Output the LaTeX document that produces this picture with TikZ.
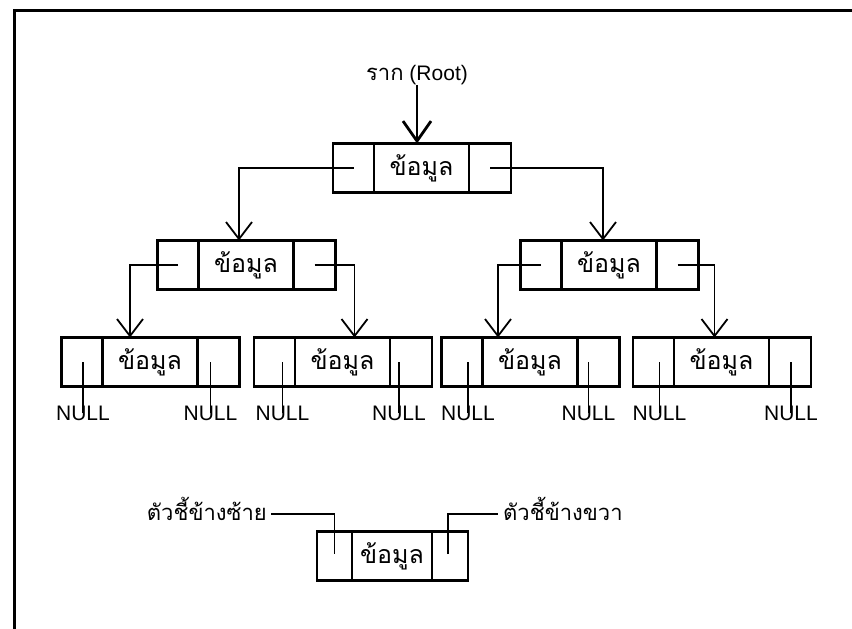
\documentclass[tikz,border=0pt]{standalone}
\usepackage{fontspec}
\setmainfont{Liberation Sans}
\newfontfamily\thaifont[Script=Thai]{Loma}
\usetikzlibrary{arrows.meta}
\tikzset{
  cell/.style={draw, line width=2.8pt, minimum height=49pt, inner sep=0pt, outer sep=0pt},
  cA/.style={cell, minimum width=41pt},
  cM/.style={cell, minimum width=95pt, font=\thaifont\fontsize{25}{30}\selectfont},
  cB/.style={cell, minimum width=42pt},
  lA/.style={cell, minimum width=35pt},
  lM/.style={cell, minimum width=80pt, font=\thaifont\fontsize{25}{30}\selectfont},
  lB/.style={cell, minimum width=36pt},
  ptr/.style={line width=1.6pt, -{Straight Barb[length=17pt, width=26pt, line width=1.8pt]}},
  rootptr/.style={line width=2.8pt, -{Straight Barb[length=20pt, width=28pt, line width=2.8pt]}},
  stub/.style={line width=1.5pt},
  nulltxt/.style={font=\fontsize{21}{25}\selectfont, inner sep=0pt, anchor=north},
  lbl/.style={font=\thaifont\fontsize{22}{26}\selectfont, inner sep=0pt},
  frame/.style={line width=3pt}
}
\newcommand\myrec[3]{%
  \node[cA] (#1A) at (#2,#3) {};
  \node[cM, anchor=west] (#1M) at (#1A.east) {ข้อมูล};
  \node[cB, anchor=west] (#1B) at (#1M.east) {};
}
\begin{document}
\begin{tikzpicture}[x=1pt, y=-1pt]
\useasboundingbox (0,0) rectangle (852,629);
\draw[frame] (14,629) -- (14,10) -- (852,10);

% root label
\node[inner sep=0pt, font=\fontsize{21}{25}\selectfont] (rootlbl) at (417,75) {{\thaifont\fontsize{22}{26}\selectfont ราก} (Root)};

% records
\myrec{r}{353.5}{168}
\myrec{l}{178}{265}
\myrec{q}{541}{265}
\myrec{a}{82}{362}
\myrec{b}{274.5}{362}
\myrec{c}{462}{362}
\myrec{d}{653.5}{362}

\draw[rootptr] (rootlbl.south) -- (rootlbl.south |- rM.north);

% pointers
\draw[ptr] (rA.center) -| ([xshift=-7pt]lM.north);
\draw[ptr] (rB.center) -| ([xshift=-6pt]qM.north);
\draw[ptr] (lA.center) -| ([xshift=-20pt]aM.north);
\draw[ptr] (lB.center) -| ([xshift=12pt]bM.north);
\draw[ptr] (qA.center) -| ([xshift=-32pt]cM.north);
\draw[ptr] (qB.center) -| ([xshift=-7pt]dM.north);

% NULL pointers
\foreach \n/\dx in {aA/1, aB/-8, bA/8, bB/-12, cA/6, cB/-10, dA/6, dB/1} {
  \node[nulltxt] (null\n) at ([xshift=\dx pt, yshift=-19pt]\n.south) {NULL};
  \draw[stub] ([xshift=\dx pt]\n.center) -- ([yshift=-7pt]null\n.north);
}

% legend
\node[lA] (gA) at (334.5,556) {};
\node[lM, anchor=west] (gM) at (gA.east) {ข้อมูล};
\node[lB, anchor=west] (gB) at (gM.east) {};
\node[lbl, anchor=base east] (tl) at (267,520) {ตัวชี้ข้างซ้าย};
\node[lbl, anchor=base west] (tr) at (503,520) {ตัวชี้ข้างขวา};
\draw[stub] ([xshift=4pt, yshift=6pt]tl.base east) -| ([yshift=2pt]gA.center);
\draw[stub] ([xshift=-2pt,yshift=2pt]gB.center) |- ([xshift=-5pt, yshift=6pt]tr.base west);
\end{tikzpicture}
\end{document}
